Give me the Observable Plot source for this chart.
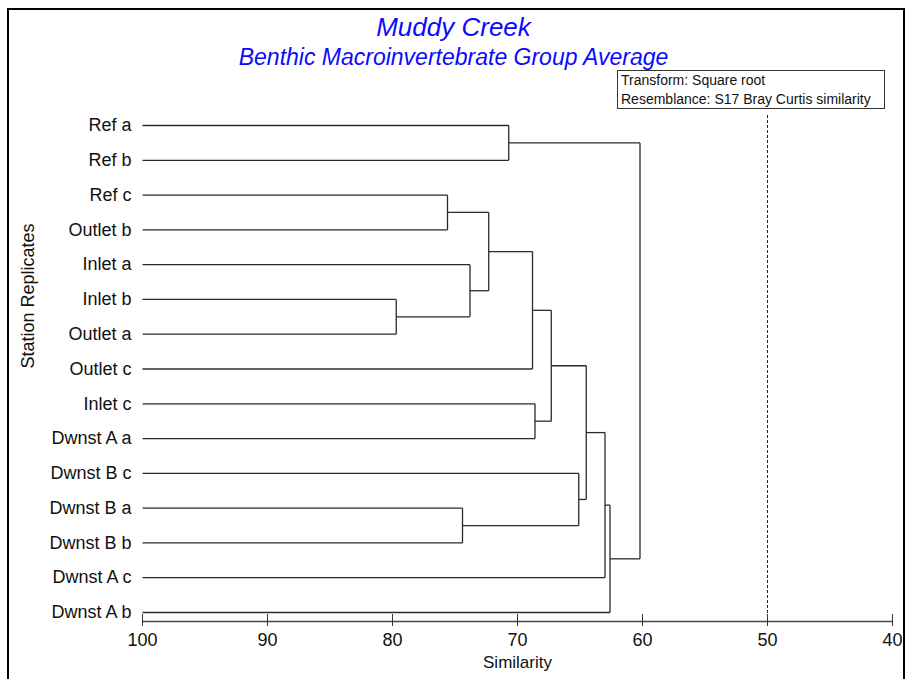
<!DOCTYPE html>
<html><head><meta charset="utf-8">
<script src="https://cdn.jsdelivr.net/npm/d3@7"></script>
<script src="https://cdn.jsdelivr.net/npm/@observablehq/plot@0.6"></script>
<style>
body{margin:0;background:#fff;font-family:"Liberation Sans",Arial,sans-serif}
#wrap{position:relative;width:907px;height:679px;overflow:hidden;background:#fff}
#chart{position:absolute;left:0;top:0}
#border{position:absolute;left:7px;top:8px;width:898px;height:720px;border:2px solid #000;box-sizing:border-box}
.ttl{position:absolute;left:0;width:907px;text-align:center;font-style:italic;color:#0a0aff;white-space:nowrap}
#title{top:12px;font-size:26px;line-height:30px}
#subtitle{top:43px;font-size:23px;line-height:28px}
#legend{position:absolute;left:617px;top:70px;width:268px;height:39px;border:1px solid #333;box-sizing:border-box;font-size:14px;line-height:19px;padding:0 0 0 3px;color:#111;white-space:nowrap}
</style></head>
<body>
<div id="wrap">
  <div id="chart"></div>
  <div id="border"></div>
  <div id="title" class="ttl"></div>
  <div id="subtitle" class="ttl"></div>
  <div id="legend"></div>
</div>
<script>
const titleText = "Muddy Creek";
const subtitleText = "Benthic Macroinvertebrate Group Average";
const legendLines = ["Transform: Square root", "Resemblance: S17 Bray Curtis similarity"];
const xLabel = "Similarity";
const yLabel = "Station Replicates";

const leaves = ["Ref a","Ref b","Ref c","Outlet b","Inlet a","Inlet b","Outlet a","Outlet c","Inlet c","Dwnst A a","Dwnst B c","Dwnst B a","Dwnst B b","Dwnst A c","Dwnst A b"];
// merge k creates cluster "C{k+1}"
const mergeLeft  = ["Ref a","Ref c","Inlet b","Inlet a","C2","C5","Inlet c","C6","Dwnst B a","Dwnst B c","C8","C11","C12","C1"];
const mergeRight = ["Ref b","Outlet b","Outlet a","C3","C4","Outlet c","Dwnst A a","C7","Dwnst B b","C9","C10","Dwnst A c","Dwnst A b","C13"];
const mergeSimilarity = [70.7,75.6,79.7,73.8,72.3,68.8,68.6,67.3,74.4,65.1,64.5,63.0,62.6,60.2];
const xTicks = [100,90,80,70,60,50,40];
const cutSimilarity = [50];

document.getElementById("title").textContent = titleText;
document.getElementById("subtitle").textContent = subtitleText;
document.getElementById("legend").innerHTML = legendLines.map(s => `<div>${s}</div>`).join("");

// build node positions
const nodes = new Map();
leaves.forEach((name, i) => nodes.set(name, {x: 100, y: i}));
const links = [];
mergeSimilarity.forEach((s, k) => {
  const a = nodes.get(mergeLeft[k]), b = nodes.get(mergeRight[k]);
  links.push({x1: a.x, y1: a.y, x2: s, y2: a.y});
  links.push({x1: b.x, y1: b.y, x2: s, y2: b.y});
  links.push({x1: s, y1: a.y, x2: s, y2: b.y});
  nodes.set("C" + (k + 1), {x: s, y: (a.y + b.y) / 2});
});

const chart = Plot.plot({
  width: 907,
  height: 679,
  marginLeft: 142,
  marginRight: 15,
  marginTop: 115,
  marginBottom: 58,
  style: {fontFamily: "'Liberation Sans', Arial, sans-serif", fontSize: "18px", background: "transparent", color: "#111"},
  x: {domain: [100, 40], axis: null},
  y: {domain: [0, leaves.length - 1], range: [125, 612], axis: null},
  marks: [
    Plot.ruleX(cutSimilarity, {stroke: "#222", strokeWidth: 1, strokeDasharray: "3,2"}),
    Plot.link(links, {x1: "x1", y1: "y1", x2: "x2", y2: "y2", stroke: "#2a2a2a", strokeWidth: 1.3}),
    Plot.text(leaves, {x: () => 100, y: (d, i) => i, text: d => d, textAnchor: "end", dx: -11, fontSize: 18, fill: "#111"}),
    Plot.frame({anchor: "bottom", stroke: "#444", strokeWidth: 1.3}),
    Plot.axisX({ticks: xTicks, tickSize: 12, dy: -7, text: null, stroke: "#333"}),
    Plot.axisX({ticks: xTicks, tickSize: 0, tickPadding: 12, fontSize: 18, tickFormat: d => String(d), label: null, fill: "#111"}),
    Plot.text([xLabel], {frameAnchor: "bottom", dy: 46, fontSize: 17, fill: "#111"}),
    Plot.text([yLabel], {frameAnchor: "left", dx: -114, rotate: -90, fontSize: 18, fill: "#111"})
  ]
});
document.getElementById("chart").appendChild(chart);
</script>
</body></html>
